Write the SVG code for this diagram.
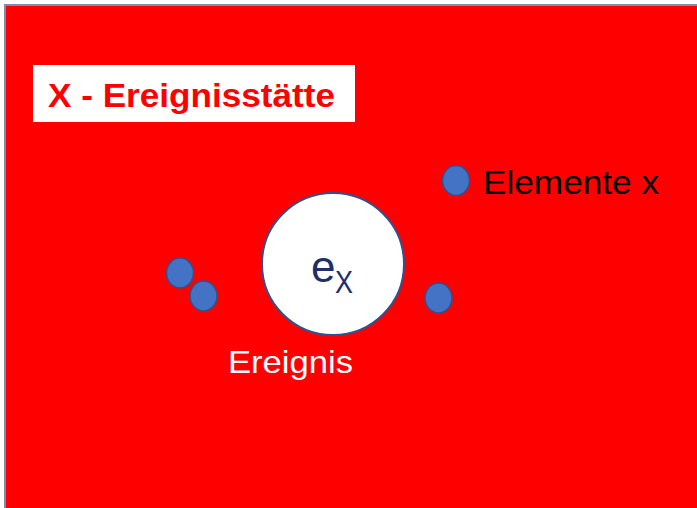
<svg xmlns="http://www.w3.org/2000/svg" width="697" height="508" viewBox="0 0 697 508">
<style>
.dot{fill:#4472C4;stroke:#2F528F;stroke-width:1.5}
.t{font-family:"Liberation Sans",Arial,sans-serif}
</style>
<rect width="697" height="508" fill="#ffffff"/>
<g id="area">
<rect x="5" y="5" width="700" height="510" fill="#FF0000" stroke="#7F8DA8" stroke-width="2"/>
</g>
<g id="title">
<rect x="33" y="65" width="322" height="57" fill="#ffffff"/>
<text class="t" x="48" y="107" font-size="34" font-weight="bold" fill="#FF0000" textLength="287" lengthAdjust="spacingAndGlyphs">X - Ereignisstätte</text>
</g>
<g id="event">
<circle cx="333" cy="264" r="71" fill="#ffffff" stroke="#2F528F" stroke-width="2"/>
<text class="t" x="311" y="282" font-size="44" fill="#1F2F6B">e</text>
<text class="t" x="335" y="293" font-size="31" fill="#1F2F6B" textLength="18" lengthAdjust="spacingAndGlyphs">X</text>
<text class="t" x="228" y="373" font-size="32" fill="#ffffff" textLength="125" lengthAdjust="spacingAndGlyphs">Ereignis</text>
</g>
<g id="elements">
<ellipse class="dot" cx="180" cy="273" rx="13.5" ry="15"/>
<ellipse class="dot" cx="203.5" cy="296" rx="13.5" ry="15"/>
<ellipse class="dot" cx="438.5" cy="298" rx="13.5" ry="15"/>
<ellipse class="dot" cx="456" cy="180.5" rx="13.5" ry="15"/>
<text class="t" x="483" y="194" font-size="33" fill="#000000" textLength="176" lengthAdjust="spacingAndGlyphs">Elemente x</text>
</g>
<g id="connectors"></g>
</svg>
